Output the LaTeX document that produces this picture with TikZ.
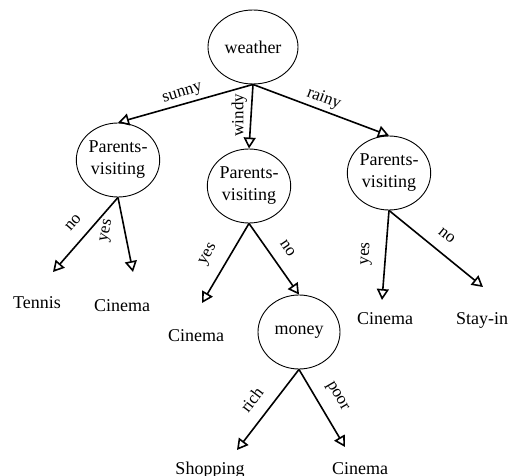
\documentclass[tikz,border=0pt]{standalone}
\usepackage{fontspec}
\setmainfont{Liberation Serif}
\usetikzlibrary{arrows.meta}
\usetikzlibrary{positioning}
\usetikzlibrary{shapes.geometric}

\tikzset{
  test/.style={draw, ellipse, line width=0.9pt, minimum width=82pt, minimum height=74pt,
    inner sep=0pt, align=center, font=\fontsize{18}{22}\selectfont},
  leaf/.style={inner sep=0pt, text height=12pt, text depth=0pt, font=\fontsize{18}{22}\selectfont},
  branch/.style={line width=1.6pt, ->},
  lbl/.style={anchor=south, inner sep=2pt, outer sep=11pt, font=\fontsize{17}{20}\selectfont},
}

\begin{document}
\begin{tikzpicture}[>={Triangle[open, length=11pt, width=12pt]}, node distance=10pt, on grid]
      \useasboundingbox (0,0) rectangle (509pt,-476pt);
      \node[test, minimum width=90pt] (weather) at (253pt,-47pt) {weather};
      \node[test, below left=113pt and 135pt of weather] (parents1) {Parents-\\visiting};
      \node[test, below left=139pt and 4pt of weather] (parents2) {Parents-\\visiting};
      \node[test, below right=126pt and 136pt of weather] (parents3) {Parents-\\visiting};
      \node[leaf, below left=142pt and 81pt of parents1] (tennis) {Tennis};
      \node[leaf, below right=145pt and 4pt of parents1] (cinema1) {Cinema};
      \node[leaf, below left=149pt and 53pt of parents2] (cinema2) {Cinema};
      \node[test, below right=146pt and 50pt of parents2] (money) {money};
      \node[leaf, below left=145pt and 4pt of parents3] (cinema3) {Cinema};
      \node[leaf, below right=145pt and 93pt of parents3] (stayin) {Stay-in};
      \node[leaf, below left=136pt and 89pt of money] (shopping) {Shopping};
      \node[leaf, below right=136pt and 61pt of money] (cinema4) {Cinema};
      % weather
      \draw[branch] (weather.south) -- node[lbl, outer sep=2pt, pos=0.5, rotate=17] {sunny} (parents1.north);
      \draw[branch] (weather.south) -- node[lbl, outer sep=2pt, pos=0.48, rotate=90] {windy} (parents2.north);
      \draw[branch] (weather.south) -- node[lbl, outer sep=2pt, pos=0.49, rotate=-21] {rainy} (parents3.north);
      % parents visiting
      \draw[branch] (parents1.south) -- node[lbl, pos=0.49, rotate=49] {no} ([shift={(16pt,30pt)}]tennis.center);
      \draw[branch] (parents1.south) -- node[lbl, pos=0.5, rotate=78] {yes} ([shift={(11pt,33pt)}]cinema1.center);
      \draw[branch] (parents2.south) -- node[lbl, pos=0.51, rotate=60] {yes} ([shift={(6pt,32pt)}]cinema2.center);
      \draw[branch] (parents2.south) -- node[lbl, pos=0.49, rotate=-56] {no} (money.north);
      \draw[branch] (parents3.south) -- node[lbl, pos=0.5, rotate=86] {yes} ([shift={(-3pt,18pt)}]cinema3.center);
      \draw[branch] (parents3.south) -- node[lbl, pos=0.5, rotate=-39] {no} ([shift={(1pt,31pt)}]stayin.center);
      % money
      \draw[branch] (money.south) -- node[lbl, pos=0.52, rotate=53] {rich} ([shift={(27pt,18pt)}]shopping.center);
      \draw[branch] (money.south) -- node[lbl, pos=0.47, rotate=-60] {poor} ([shift={(-15pt,21pt)}]cinema4.center);
    \end{tikzpicture}
\end{document}
